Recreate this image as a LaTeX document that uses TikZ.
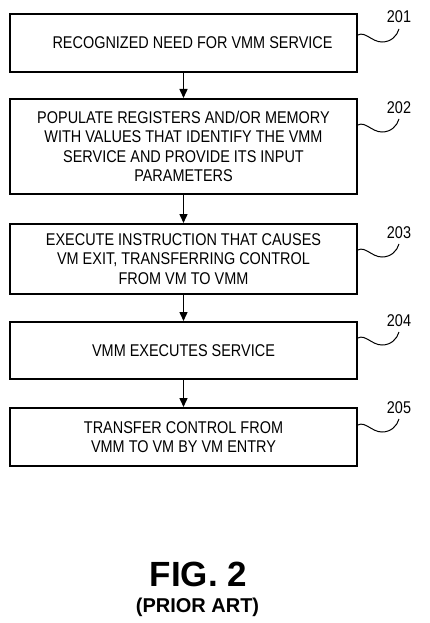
\documentclass[tikz,border=0pt]{standalone}
\usepackage{fontspec}
\setmainfont{Liberation Sans}
\newfontfamily\boxfont[FakeStretch=0.85]{Liberation Sans}
\usetikzlibrary{arrows.meta}
\begin{document}
\begin{tikzpicture}[x=1pt,y=-1pt,
  stepbox/.style={draw, line width=2pt, minimum width=347pt, inner sep=0pt,
    align=center, font=\boxfont\fontsize{17}{19.3}\selectfont},
  flow/.style={line width=1.5pt, -{Triangle[length=9pt,width=8pt]}},
  squig/.style={line width=1pt},
  reflab/.style={font=\boxfont\fontsize{17}{19}\selectfont, inner sep=0pt}]
\useasboundingbox (0,0) rectangle (430,623);
\node[stepbox, minimum height=58pt] (b1) at (183.5,43) {\hspace*{18pt}RECOGNIZED NEED FOR VMM SERVICE};
\node[stepbox, minimum height=95pt] (b2) at (183.5,146.5) {POPULATE REGISTERS AND/OR MEMORY\\WITH VALUES THAT IDENTIFY THE VMM\\SERVICE AND PROVIDE ITS INPUT\\PARAMETERS};
\node[stepbox, minimum height=70pt] (b3) at (183.5,259) {EXECUTE INSTRUCTION THAT CAUSES\\VM EXIT, TRANSFERRING CONTROL\\FROM VM TO VMM};
\node[stepbox, minimum height=57pt] (b4) at (183.5,350.5) {VMM EXECUTES SERVICE};
\node[stepbox, minimum height=58pt] (b5) at (183.5,437) {TRANSFER CONTROL FROM\\VMM TO VM BY VM ENTRY};
\draw[flow] (b1) -- (b2);
\draw[flow] (b2) -- (b3);
\draw[flow] (b3) -- (b4);
\draw[flow] (b4) -- (b5);
% reference labels
\node[reflab] (l1) at (399,17) {201};
\node[reflab] (l2) at (399,108) {202};
\node[reflab] (l3) at (399,233) {203};
\node[reflab] (l4) at (399,321) {204};
\node[reflab] (l5) at (399,408) {205};
\coordinate (s1) at (358,35);
\coordinate (s2) at (358,125);
\coordinate (s3) at (358,250);
\coordinate (s4) at (358,338);
\coordinate (s5) at (358,425);
\foreach \i in {1,...,5}{
  \draw[squig] (s\i) .. controls ([shift={(7,-4)}]s\i) and ([shift={(14,7)}]s\i) .. ([shift={(24,7)}]s\i)
     .. controls ([shift={(33,7)}]s\i) and ([shift={(39,1)}]s\i) .. ([shift={(41,-6)}]s\i);
}
\node[font=\bfseries\fontsize{35}{35}\selectfont, inner sep=0pt] (fig) at (198.5,574.5) {FIG. 2};
\node[font=\bfseries\fontsize{20}{20}\selectfont, inner sep=0pt] (pa) at (197.5,607) {(PRIOR ART)};
\end{tikzpicture}
\end{document}
